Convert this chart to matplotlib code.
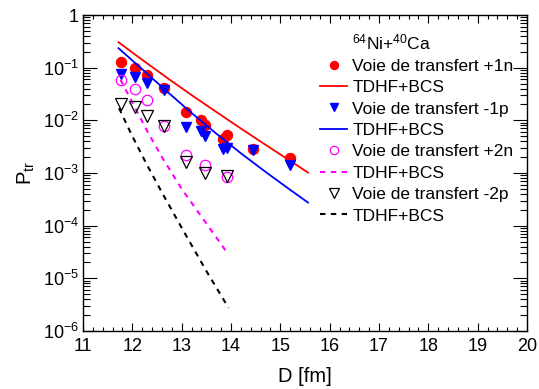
import math
import matplotlib
matplotlib.use("Agg")
import matplotlib.pyplot as plt
from matplotlib.ticker import FixedLocator, LogLocator, FuncFormatter, MultipleLocator, NullFormatter
from matplotlib.lines import Line2D

plt.rcParams['font.family'] = ['Liberation Sans', 'DejaVu Sans']
plt.rcParams['mathtext.fontset'] = 'custom'
plt.rcParams['mathtext.rm'] = 'Liberation Sans'
plt.rcParams['mathtext.it'] = 'Liberation Sans'
plt.rcParams['mathtext.default'] = 'regular'

# ---- data: experimental transfer probabilities ----
D_1n = [11.77, 12.05, 12.30, 12.65, 13.08, 13.39, 13.47, 13.84, 13.92, 14.44, 15.20]
P_1n = [0.129, 0.100, 0.074, 0.042, 0.0144, 0.0102, 0.0080, 0.0044, 0.0053, 0.0028, 0.0019]

D_1p = [11.77, 12.05, 12.30, 12.65, 13.08, 13.39, 13.47, 13.84, 13.92, 14.44, 15.20]
P_1p = [0.076, 0.066, 0.051, 0.037, 0.0074, 0.0062, 0.0050, 0.0028, 0.0030, 0.0027, 0.0014]

D_2n = [11.77, 12.05, 12.30, 12.65, 13.08, 13.47, 13.92]
P_2n = [0.059, 0.039, 0.024, 0.0079, 0.0022, 0.00145, 0.00083]

D_2p = [11.77, 12.05, 12.30, 12.65, 13.08, 13.47, 13.92]
P_2p = [0.0206, 0.018, 0.0123, 0.0077, 0.0016, 0.0010, 0.00087]

# ---- TDHF+BCS curves ----
D_th_1n = [11.72, 12.2, 12.7, 13.2, 13.7, 14.2, 14.7, 15.2, 15.56]
P_th_1n = [0.304, 0.141, 0.0646, 0.0302, 0.0145, 0.0070, 0.00343, 0.0017, 0.00102]

D_th_1p = [11.72, 12.2, 12.7, 13.2, 13.7, 14.2, 14.7, 15.2, 15.56]
P_th_1p = [0.234, 0.0933, 0.0355, 0.0138, 0.00562, 0.00237, 0.00105, 0.000479, 0.000275]

D_th_2n = [11.76, 12.0, 12.3, 12.6, 13.0, 13.5, 13.95]
P_th_2n = [0.0589, 0.0219, 0.0063, 0.0020, 0.0005, 0.00011, 2.82e-5]

D_th_2p = [11.73, 12.0, 12.3, 12.6, 13.0, 13.5, 13.95]
P_th_2p = [0.017, 0.0050, 0.00141, 0.000427, 9.12e-5, 1.38e-5, 2.75e-6]

labels = ['Voie de transfert +1n', 'TDHF+BCS', 'Voie de transfert -1p', 'TDHF+BCS',
          'Voie de transfert +2n', 'TDHF+BCS', 'Voie de transfert -2p', 'TDHF+BCS']
title = r'$^{64}$Ni+$^{40}$Ca'
x_ticks = [11, 12, 13, 14, 15, 16, 17, 18, 19, 20]

fig = plt.figure(figsize=(5.39, 3.89), dpi=100)
ax = fig.add_axes([83/539, 1-331/389, (527-83)/539, (331-15)/389])

dash = (0, (2.6, 2.6))
h1, = ax.plot(D_1n, P_1n, 'o', color='red', ms=7.2, mec='red', lw=0)
h2, = ax.plot(D_th_1n, P_th_1n, '-', color='red', lw=1.3)
h3, = ax.plot(D_1p, P_1p, 'v', color='blue', ms=7.5, mec='blue', lw=0)
h4, = ax.plot(D_th_1p, P_th_1p, '-', color='blue', lw=1.3)
h5, = ax.plot(D_2n, P_2n, 'o', mfc='none', mec='magenta', ms=7.5, mew=0.9, lw=0)
h6, = ax.plot(D_th_2n, P_th_2n, color='magenta', lw=1.5, linestyle=dash)
h7, = ax.plot(D_2p, P_2p, 'v', mfc='none', mec='black', ms=8.5, mew=0.9, lw=0)
h8, = ax.plot(D_th_2p, P_th_2p, color='black', lw=1.5, linestyle=dash)

ax.set_yscale('log')
ax.set_xlim(11, 20)
ax.set_ylim(1e-6, 1)

ax.xaxis.set_major_locator(FixedLocator(x_ticks))
ax.xaxis.set_minor_locator(MultipleLocator(0.2))
ax.yaxis.set_major_locator(LogLocator(base=10, numticks=10))
ax.yaxis.set_minor_locator(LogLocator(base=10, subs=range(2, 10), numticks=20))

def yfmt(v, pos):
    if abs(v - 1) < 1e-9:
        return '1'
    return r'$10^{%d}$' % round(math.log10(v))
ax.yaxis.set_major_formatter(FuncFormatter(yfmt))
ax.yaxis.set_minor_formatter(NullFormatter())

ax.tick_params(axis='x', which='major', direction='in', length=6, width=0.8, top=True, labelsize=13, pad=5)
ax.tick_params(axis='x', which='minor', direction='in', length=3, width=0.8, top=True)
ax.tick_params(axis='y', which='major', direction='in', length=10, width=0.8, right=True, labelsize=13, pad=3)
ax.tick_params(axis='y', which='minor', direction='in', length=5, width=0.8, right=True)
for s in ax.spines.values():
    s.set_linewidth(1.0)

ax.set_xlabel('D [fm]', fontsize=14.5, labelpad=9)
ax.set_ylabel(r'P$_{tr}$', fontsize=14.5, labelpad=4)

dummy = Line2D([], [], linestyle='none', marker='none')
leg = ax.legend([dummy, h1, h2, h3, h4, h5, h6, h7, h8], [title] + labels,
                loc='upper right', bbox_to_anchor=(0.991, 0.975), frameon=False,
                fontsize=12.5, handlelength=1.55, handletextpad=0.3,
                labelspacing=0.36, borderaxespad=0.15, markerscale=0.8)

fig.savefig('out.png', dpi=100)
